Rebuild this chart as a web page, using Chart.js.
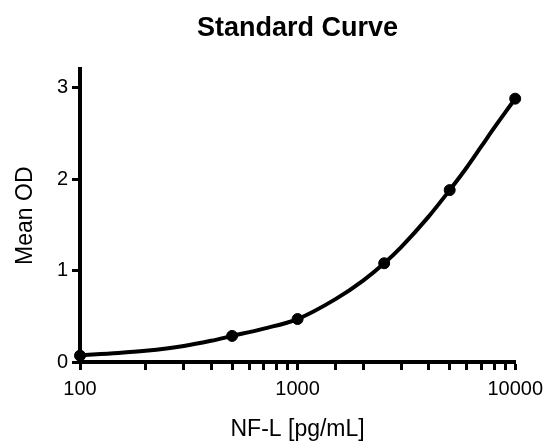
<!DOCTYPE html>
<html><head><meta charset="utf-8">
<script src="https://cdn.jsdelivr.net/npm/chart.js@4/dist/chart.umd.min.js"></script>
<style>html,body{margin:0;padding:0;background:#fff}#wrap{width:550px;height:441px}</style>
</head><body><div id="wrap"><canvas id="c" width="550" height="441"></canvas></div>
<script>
// Standard points (NF-L concentration, mean OD)
const concentrations = [100, 500, 1000, 2500, 5000, 10000];
const meanOD = [0.07, 0.285, 0.47, 1.08, 1.88, 2.88];
// Fitted curve
const curveX = [100, 150, 200, 300, 400, 500, 700, 1000, 1500, 2000, 2500, 3000, 4000, 5000, 6000, 7000, 8000, 9000, 10000];
const curveY = [0.075, 0.098, 0.122, 0.175, 0.232, 0.285, 0.365, 0.47, 0.69, 0.89, 1.08, 1.26, 1.59, 1.88, 2.13, 2.36, 2.56, 2.73, 2.88];
// Tick labels
const xTickLabels = [100, 1000, 10000];
const yTickLabels = [0, 1, 2, 3];

const FONT = "'Liberation Sans', Arial, sans-serif";

new Chart(document.getElementById('c'), {
  type: 'scatter',
  data: {
    datasets: [
      {
        label: 'Standards',
        data: concentrations.map((x, i) => ({x: x, y: meanOD[i]})),
        pointRadius: 5.5,
        pointBackgroundColor: '#000',
        pointBorderColor: '#000',
        pointBorderWidth: 1,
        showLine: false,
        clip: false
      },
      {
        label: 'Fit',
        data: curveX.map((x, i) => ({x: x, y: curveY[i]})),
        showLine: true,
        pointRadius: 0,
        borderColor: '#000',
        borderWidth: 4,
        cubicInterpolationMode: 'monotone',
        fill: false
      }
    ]
  },
  options: {
    responsive: false,
    animation: false,
    layout: {padding: {left: 0, right: 31, top: 0, bottom: 0}},
    plugins: {
      legend: {display: false},
      tooltip: {enabled: false},
      title: {
        display: true,
        text: 'Standard Curve',
        fullSize: false,
        color: '#000',
        font: {family: FONT, size: 27, weight: 'bold'},
        padding: {top: 12, bottom: 25}
      }
    },
    scales: {
      x: {
        type: 'logarithmic',
        min: 100,
        max: 10000,
        border: {display: true, color: '#000', width: 4},
        grid: {display: true, drawOnChartArea: false, drawTicks: true, tickLength: 8, tickWidth: 3, tickColor: '#000'},
        ticks: {
          autoSkip: false,
          maxRotation: 0,
          color: '#000',
          padding: 7,
          font: {family: FONT, size: 20},
          callback: (v) => xTickLabels.includes(v) ? String(v) : ''
        },
        title: {display: true, text: 'NF-L [pg/mL]', color: '#000', font: {family: FONT, size: 23, lineHeight: 1.0}, padding: {top: 0, bottom: 0}},
        afterFit: (s) => { s.height = 79; }
      },
      y: {
        min: 0,
        max: 3.2,
        border: {display: true, color: '#000', width: 4},
        grid: {display: true, drawOnChartArea: false, drawTicks: true, tickLength: 8, tickWidth: 3, tickColor: '#000'},
        ticks: {
          stepSize: 1,
          includeBounds: false,
          color: '#000',
          padding: 4,
          font: {family: FONT, size: 20},
          callback: (v) => yTickLabels.includes(v) ? String(v) : ''
        },
        title: {display: true, text: 'Mean OD', color: '#000', font: {family: FONT, size: 23}, padding: {top: 12, bottom: 0}},
        afterFit: (s) => { s.width = 80; }
      }
    }
  }
});
</script>
</body></html>
